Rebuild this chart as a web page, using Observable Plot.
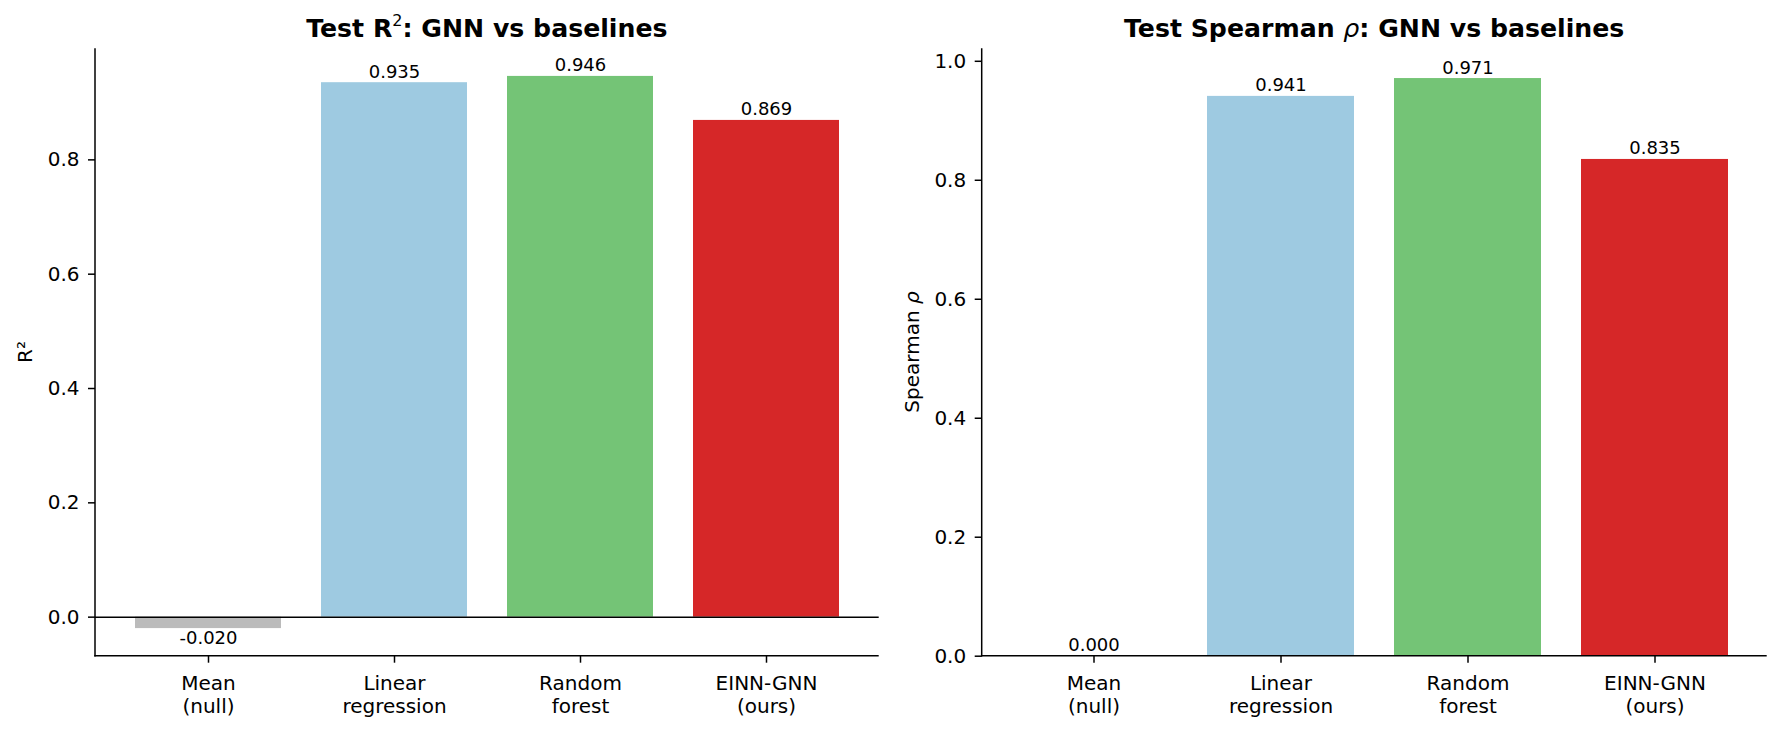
<!DOCTYPE html>
<html><head><meta charset="utf-8">
<script src="https://cdn.jsdelivr.net/npm/d3@7"></script>
<script src="https://cdn.jsdelivr.net/npm/@observablehq/plot@0.6"></script>
<style>
body{margin:0;background:#fff;}
#wrap{position:relative;width:1780px;height:729px;background:#fff;overflow:hidden}
#wrap svg{position:absolute;top:0}
</style></head><body><div id="wrap"></div>
<script>
const categories = ["Mean (null)", "Linear regression", "Random forest", "EINN-GNN (ours)"];
const tickLabels = ["Mean\n(null)", "Linear\nregression", "Random\nforest", "EINN-GNN\n(ours)"];
const barColors = ["#bbbbbb", "#9ecae1", "#74c476", "#d62728"];
const r2Values = [-0.020, 0.935, 0.946, 0.869];
const spearmanValues = [0.000, 0.941, 0.971, 0.835];
const r2Ticks = [0, 0.2, 0.4, 0.6, 0.8];
const spearmanTicks = [0, 0.2, 0.4, 0.6, 0.8, 1.0];

const FONT = "DejaVu Sans, sans-serif";

function spines(index, scales, values, dims) {
  const {width, height, marginLeft, marginRight, marginTop, marginBottom} = dims;
  const g = d3.create("svg:g").attr("stroke", "#000").attr("stroke-width", 1.5);
  g.append("line").attr("x1", marginLeft).attr("x2", marginLeft)
    .attr("y1", marginTop).attr("y2", height - marginBottom + 0.75);
  g.append("line").attr("x1", marginLeft - 0.75).attr("x2", width - marginRight)
    .attr("y1", height - marginBottom).attr("y2", height - marginBottom);
  return g.node();
}

function titleMark(parts) {
  return (index, scales, values, dims) => {
    const {width, marginLeft, marginRight} = dims;
    const t = d3.create("svg:text")
      .attr("x", (marginLeft + width - marginRight) / 2)
      .attr("y", 36.7)
      .attr("text-anchor", "middle")
      .attr("font-family", FONT)
      .attr("font-size", 25.2)
      .attr("font-weight", "bold")
      .attr("fill", "#000");
    for (const p of parts) {
      const s = t.append("tspan").text(p.text);
      if (p.sup) s.attr("font-size", 16).attr("font-weight", "normal").attr("dy", -11);
      if (p.after) s.attr("dy", 11);
      if (p.italic) s.attr("font-style", "italic").attr("font-weight", "normal");
    }
    return t.node();
  };
}

function ylabelMark(parts, xBase) {
  return (index, scales, values, dims) => {
    const {height, marginTop, marginBottom} = dims;
    const cy = (marginTop + height - marginBottom) / 2;
    const t = d3.create("svg:text")
      .attr("transform", `translate(${xBase},${cy}) rotate(-90)`)
      .attr("text-anchor", "middle")
      .attr("font-family", FONT)
      .attr("font-size", 20)
      .attr("fill", "#000");
    for (const p of parts) {
      const s = t.append("tspan").text(p.text);
      if (p.italic) s.attr("font-style", "italic");
    }
    return t.node();
  };
}

function panel({values, ticks, domain, title, ylabel, ylabelX, zeroLine, left, ml, mr}) {
  const data = categories.map((c, i) => ({cat: c, value: values[i], color: barColors[i], label: values[i].toFixed(3)}));
  const svg = Plot.plot({
    width: 890, height: 729,
    marginLeft: ml, marginRight: mr, marginTop: 48.3, marginBottom: 73.3,
    style: {fontFamily: FONT, fontSize: "20px", color: "#000", background: "transparent"},
    x: {domain: categories, paddingInner: 0.215, paddingOuter: 0.203, align: 0.5, label: null},
    y: {domain, label: null},
    color: {type: "identity"},
    marks: [
      Plot.barY(data, {x: "cat", y: "value", fill: "color"}),
      zeroLine ? Plot.ruleY([0], {stroke: "#000", strokeWidth: 1.5}) : null,
      Plot.text(data.filter(d => d.value >= 0), {x: "cat", y: "value", text: "label", lineAnchor: "bottom", dy: -5, fontSize: 18, fill: "#000"}),
      Plot.text(data.filter(d => d.value < 0), {x: "cat", y: "value", text: "label", lineAnchor: "top", dy: 3, fontSize: 18, fill: "#000"}),
      Plot.axisX({tickFormat: d => tickLabels[categories.indexOf(d)], tickSize: 7, tickPadding: 10, lineHeight: 1.15, fontSize: 20, stroke: "#000", strokeWidth: 1.5, label: null}),
      Plot.axisY({ticks, tickFormat: d => d.toFixed(1), tickSize: 7, tickPadding: 9, fontSize: 20, stroke: "#000", strokeWidth: 1.5, label: null}),
      spines,
      ylabelMark(ylabel, ylabelX),
      titleMark(title)
    ]
  });
  svg.style.left = left + "px";
  document.getElementById("wrap").appendChild(svg);
}

panel({
  values: r2Values, ticks: r2Ticks, domain: [-0.0683, 0.9943],
  title: [{text: "Test R"}, {text: "2", sup: true}, {text: ": GNN vs baselines", after: true}],
  ylabel: [{text: "R²"}], ylabelX: 32.3, zeroLine: true, left: 0, ml: 95, mr: 11.3
});
panel({
  values: spearmanValues, ticks: spearmanTicks, domain: [0, 1.021],
  title: [{text: "Test Spearman "}, {text: "ρ", italic: true}, {text: ": GNN vs baselines"}],
  ylabel: [{text: "Spearman "}, {text: "ρ", italic: true}], ylabelX: 29.3, zeroLine: false, left: 890, ml: 91.7, mr: 13.3
});
</script></body></html>
